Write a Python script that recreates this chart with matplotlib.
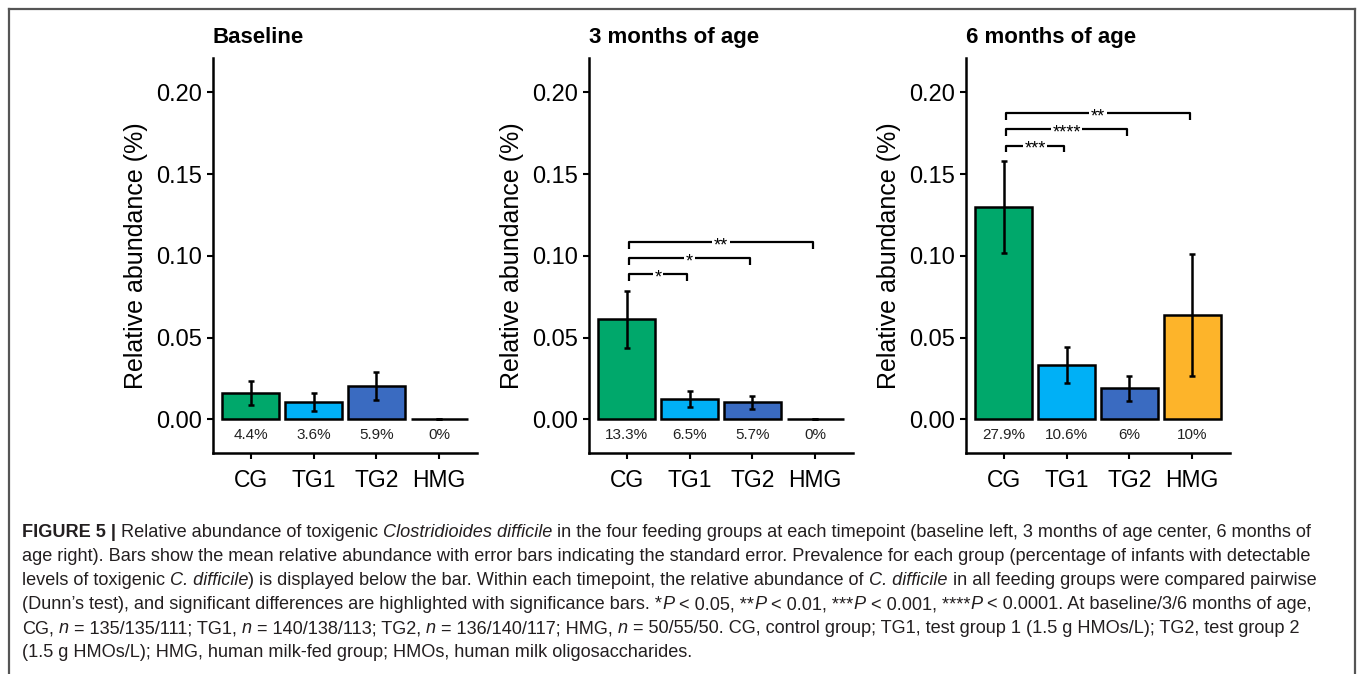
import numpy as np
import matplotlib
matplotlib.use("Agg")
import matplotlib.pyplot as plt
from matplotlib.lines import Line2D

plt.rcParams['font.family'] = ['Liberation Sans', 'DejaVu Sans']

# Data
groups = ['CG', 'TG1', 'TG2', 'HMG']
colors = ['#00a86b', '#00b0f6', '#3a6bc1', '#fdb42a']
titles = ['Baseline', '3 months of age', '6 months of age']

mean_base = [0.0160, 0.0105, 0.0205, 0.0]
se_base = [0.0075, 0.0054, 0.0087, 0.0]
mean_3m = [0.0612, 0.0124, 0.0103, 0.0]
se_3m = [0.0174, 0.0051, 0.0042, 0.0]
mean_6m = [0.1299, 0.0333, 0.0190, 0.0639]
se_6m = [0.0279, 0.0112, 0.0078, 0.0373]

prev_base = ['4.4%', '3.6%', '5.9%', '0%']
prev_3m = ['13.3%', '6.5%', '5.7%', '0%']
prev_6m = ['27.9%', '10.6%', '6%', '10%']

# significance brackets: (group a, group b, height, label)
sig_base = []
sig_3m = [(0, 1, 0.0887, '*'), (0, 2, 0.0986, '*'), (0, 3, 0.1084, '**')]
sig_6m = [(0, 1, 0.1674, '***'), (0, 2, 0.1776, '****'), (0, 3, 0.1874, '**')]

means = [mean_base, mean_3m, mean_6m]
ses = [se_base, se_3m, se_6m]
prevs = [prev_base, prev_3m, prev_6m]
sigs = [sig_base, sig_3m, sig_6m]

W, H = 1358, 674
fig = plt.figure(figsize=(W / 100, H / 100), dpi=100)

ax_left_px = [213, 589, 966]
ax_w_px = 264
ax_top_px, ax_bot_px = 58, 453
x = np.arange(len(groups))

axes = []
for k in range(3):
    ax = fig.add_axes([ax_left_px[k] / W, 1 - ax_bot_px / H,
                       ax_w_px / W, (ax_bot_px - ax_top_px) / H])
    axes.append(ax)
    ax.bar(x, means[k], width=0.9, color=colors, edgecolor='black',
           linewidth=1.8, zorder=2)
    ax.errorbar(x, means[k], yerr=ses[k], fmt='none', ecolor='black',
                elinewidth=1.8, capsize=2.5, capthick=1.8, zorder=3)
    for i, lab in enumerate(prevs[k]):
        ax.text(x[i], -0.0098, lab, ha='center', va='center', fontsize=11,
                color='#222222')
    tip = 0.0042
    for a, b, yy, lab in sigs[k]:
        xa, xb = x[a] + 0.04, x[b] - 0.04
        ax.plot([xa, xa, xb, xb], [yy - tip, yy, yy, yy - tip], color='black',
                lw=1.6, solid_capstyle='butt', zorder=4)
        ax.text((xa + xb) / 2, yy - 0.0022, lab, ha='center', va='center',
                fontsize=13, zorder=5,
                bbox=dict(facecolor='white', edgecolor='none', pad=1.2))

    ax.set_xlim(-0.6, 3.6)
    ax.set_ylim(-0.0206, 0.221)
    ax.set_xticks(x)
    ax.set_xticklabels(groups)
    ax.set_yticks([0, 0.05, 0.10, 0.15, 0.20])
    ax.set_yticklabels(['0.00', '0.05', '0.10', '0.15', '0.20'])
    ax.tick_params(axis='both', length=4.5, width=1.5, colors='black')
    ax.tick_params(axis='x', pad=7, labelsize=16.5)
    ax.tick_params(axis='y', pad=3.5, labelsize=17)
    for s in ['top', 'right']:
        ax.spines[s].set_visible(False)
    for s in ['left', 'bottom']:
        ax.spines[s].set_linewidth(1.8)
    ax.set_ylabel('Relative abundance (%)', fontsize=18, labelpad=6)
    ax.set_title(titles[k], loc='left', fontsize=16, fontweight='bold', pad=11)

# frame around the figure
frame_kw = dict(color='#555555', lw=1.6, transform=fig.transFigure)
fig.add_artist(Line2D([9 / W, 9 / W], [0, 1 - 9 / H], **frame_kw))
fig.add_artist(Line2D([9 / W, 1355 / W], [1 - 9 / H, 1 - 9 / H], **frame_kw))
fig.add_artist(Line2D([1355 / W, 1355 / W], [0, 1 - 9 / H], **frame_kw))

# caption
caption = [
    [('FIGURE 5 |', 'b'), (' Relative abundance of toxigenic', 'n'),
     (' Clostridioides difficile', 'i'),
     (' in the four feeding groups at each timepoint (baseline left, 3 months of age center, 6 months of', 'n')],
    [('age right). Bars show the mean relative abundance with error bars indicating the standard error. '
      'Prevalence for each group (percentage of infants with detectable', 'n')],
    [('levels of toxigenic', 'n'), (' C. difficile', 'i'),
     (') is displayed below the bar. Within each timepoint, the relative abundance of', 'n'),
     (' C. difficile', 'i'), (' in all feeding groups were compared pairwise', 'n')],
    [('(Dunn\u2019s test), and significant differences are highlighted with significance bars. *', 'n'),
     ('P', 'i'), (' < 0.05, **', 'n'), ('P', 'i'), (' < 0.01, ***', 'n'), ('P', 'i'),
     (' < 0.001, ****', 'n'), ('P', 'i'), (' < 0.0001. At baseline/3/6 months of age,', 'n')],
    [('CG,', 'n'), (' n', 'i'), (' = 135/135/111; TG1,', 'n'), (' n', 'i'),
     (' = 140/138/113; TG2,', 'n'), (' n', 'i'), (' = 136/140/117; HMG,', 'n'), (' n', 'i'),
     (' = 50/55/50. CG, control group; TG1, test group 1 (1.5 g HMOs/L); TG2, test group 2', 'n')],
    [('(1.5 g HMOs/L); HMG, human milk-fed group; HMOs, human milk oligosaccharides.', 'n')],
]
cap_fs = 13.1
line_y_px = [541, 565, 589, 613, 637, 661]
for parts, ypx in zip(caption, line_y_px):
    prev = None
    for txt, st in parts:
        kw = dict(fontsize=cap_fs, color='#231f20', va='bottom', ha='left')
        if st == 'b':
            kw['fontweight'] = 'bold'
        if st == 'i':
            kw['fontstyle'] = 'italic'
        if prev is None:
            prev = fig.text(22 / W, 1 - ypx / H, txt, **kw)
        else:
            prev = axes[0].annotate(txt, xy=(1, 0), xycoords=prev,
                                    annotation_clip=False, **kw)

fig.savefig('out.png', dpi=100)
